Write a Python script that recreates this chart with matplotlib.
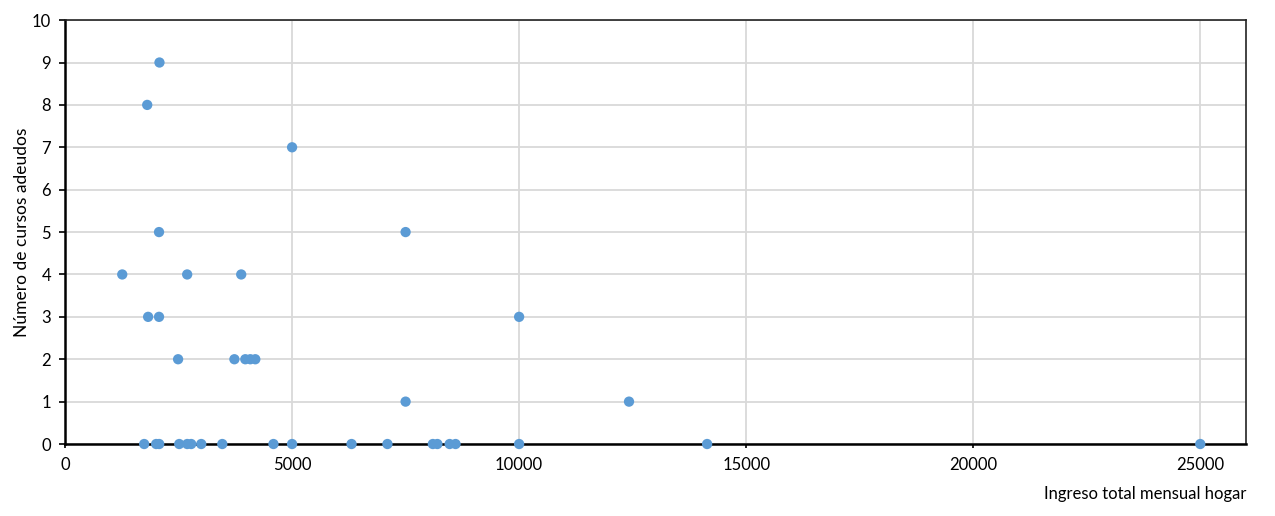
import matplotlib
matplotlib.use("Agg")
from matplotlib import pyplot as plt
import numpy as np

plt.rcParams['font.family'] = ['Lato', 'DejaVu Sans']

# Ingreso total mensual hogar vs. número de cursos adeudados
ingreso = [1743, 2007, 2074, 2515, 2691, 2779, 3000, 3463, 4590, 5000,
           6310, 7100, 8100, 8200, 8470, 8600, 10000, 14140, 25000,
           2080, 1810, 5000, 2070, 7500, 1260, 2690, 3880,
           1830, 2070, 10000, 2490, 3730, 3970, 4080, 4190, 7500, 12420]
cursos = [0, 0, 0, 0, 0, 0, 0, 0, 0, 0,
          0, 0, 0, 0, 0, 0, 0, 0, 0,
          9, 8, 7, 5, 5, 4, 4, 4,
          3, 3, 3, 2, 2, 2, 2, 2, 1, 1]

xticks = [0, 5000, 10000, 15000, 20000, 25000]
yticks = list(range(0, 11))

fig = plt.figure(figsize=(12.75, 5.16), dpi=100)
ax = fig.add_axes([0.051, 0.1395, 0.926, 0.8215])

ax.scatter(ingreso, cursos, s=55, color='#5B9BD5', zorder=3, clip_on=False,
           edgecolors='none')

ax.set_xlim(0, 26000)
ax.set_ylim(0, 10)
ax.set_xticks(xticks)
ax.set_yticks(yticks)
ax.grid(True, color='#D9D9D9', linewidth=1.3, zorder=0)
ax.set_axisbelow(True)

for side in ['left', 'bottom']:
    ax.spines[side].set_linewidth(1.8)
    ax.spines[side].set_color('black')
for side in ['top', 'right']:
    ax.spines[side].set_linewidth(1.2)
    ax.spines[side].set_color('#222222')

ax.tick_params(axis='y', direction='out', length=4, width=1.2, labelsize=12, pad=6)
ax.tick_params(axis='x', direction='out', length=3, width=1.2, labelsize=12, pad=6)

ax.set_ylabel('Número de cursos adeudos', fontsize=12.5)
ax.yaxis.set_label_coords(-0.03, 0.5)
ax.set_xlabel('Ingreso total mensual hogar', fontsize=12)
ax.xaxis.set_label_coords(1.001, -0.099)
ax.xaxis.label.set_horizontalalignment('right')

fig.savefig('out.png', dpi=100)
